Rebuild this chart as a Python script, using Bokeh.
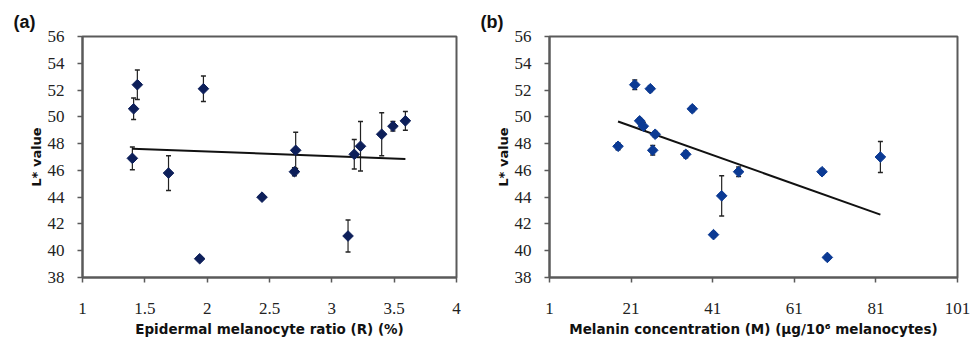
import numpy as np
from bokeh.plotting import figure
from bokeh.models import Range1d, FixedTicker, Whisker, TeeHead, ColumnDataSource, Title
from bokeh.layouts import row
from bokeh.embed import file_html
from bokeh.resources import INLINE

# ---- Panel (a) data ----
ratio_R = [1.41, 1.44, 1.40, 1.69, 1.97, 1.94, 2.44, 2.71, 2.70, 3.13, 3.18, 3.23, 3.40, 3.49, 3.59]
L_a = [50.6, 52.4, 46.9, 45.8, 52.1, 39.4, 44.0, 47.5, 45.9, 41.1, 47.2, 47.8, 48.7, 49.3, 49.7]
err_a = [0.8, 1.1, 0.85, 1.3, 0.95, 0.15, 0.15, 1.35, 0.3, 1.2, 1.1, 1.85, 1.6, 0.35, 0.7]
fit_a_x = [1.40, 3.59]
fit_a_y = [47.62, 46.85]
xticks_a = [1, 1.5, 2, 2.5, 3, 3.5, 4]
xlabels_a = ["1", "1.5", "2", "2.5", "3", "3.5", "4"]

# ---- Panel (b) data ----
conc_M = [21.9, 25.7, 36.0, 23.1, 24.0, 26.9, 17.8, 26.3, 34.4, 47.35, 43.2, 41.2, 67.8, 69.1, 82.1]
L_b = [52.4, 52.1, 50.6, 49.7, 49.3, 48.7, 47.8, 47.5, 47.2, 45.9, 44.1, 41.2, 45.9, 39.5, 47.0]
err_b = [0.35, 0.2, 0.2, 0.2, 0.3, 0.2, 0.25, 0.35, 0.25, 0.35, 1.5, 0.2, 0.2, 0.2, 1.15]
fit_b_x = [17.8, 82.1]
fit_b_y = [49.65, 42.7]
xticks_b = [1, 21, 41, 61, 81, 101]
xlabels_b = ["1", "21", "41", "61", "81", "101"]

yticks = [38, 40, 42, 44, 46, 48, 50, 52, 54, 56]
ylabels = [str(t) for t in yticks]

AXIS_COLOR = "#5a5a5a"
H = 343


def make_panel(x, y, err, fx, fy, xr, xticks, xlabels, xlabel, xlabel_size, tag, tag_offset,
               color, width, bl, br):
    p = figure(width=width, height=H, x_range=Range1d(*xr), y_range=Range1d(38, 56),
               output_backend="svg", toolbar_location=None,
               min_border_left=bl, min_border_right=br, min_border_top=36, min_border_bottom=66)
    p.grid.visible = False
    p.outline_line_color = AXIS_COLOR
    p.outline_line_width = 2
    p.background_fill_color = "white"
    p.border_fill_color = "white"

    for ax in (p.xaxis[0], p.yaxis[0]):
        ax.axis_line_color = AXIS_COLOR
        ax.axis_line_width = 2
        ax.major_tick_line_color = AXIS_COLOR
        ax.major_tick_line_width = 1.5
        ax.major_tick_in = 0
        ax.major_tick_out = 5
        ax.minor_tick_line_color = None
        ax.major_label_text_font = "Liberation Serif"
        ax.major_label_text_font_size = "17px"
        ax.major_label_text_color = "#222222"
        ax.axis_label_text_font = "DejaVu Sans"
        ax.axis_label_text_font_style = "bold"
        ax.axis_label_text_font_size = "13px"
        ax.axis_label_text_color = "#111111"
    p.xaxis.axis_label_text_font_size = xlabel_size

    p.xaxis.ticker = FixedTicker(ticks=xticks)
    p.xaxis.major_label_overrides = {float(t): l for t, l in zip(xticks, xlabels)}
    p.yaxis.ticker = FixedTicker(ticks=yticks)
    p.yaxis.major_label_overrides = {float(t): l for t, l in zip(yticks, ylabels)}
    p.xaxis.axis_label = xlabel
    p.yaxis.axis_label = "L* value"
    p.xaxis.major_label_standoff = 20
    p.xaxis.axis_label_standoff = 4
    p.yaxis.major_label_standoff = 13
    p.yaxis.axis_label_standoff = 1

    src = ColumnDataSource(dict(
        x=x, y=y,
        upper=[v + e for v, e in zip(y, err)],
        lower=[v - e for v, e in zip(y, err)],
    ))
    w = Whisker(source=src, base="x", upper="upper", lower="lower",
                line_color="#222222", line_width=1.2,
                upper_head=TeeHead(size=5, line_color="#222222", line_width=1.5),
                lower_head=TeeHead(size=5, line_color="#222222", line_width=1.5))
    p.add_layout(w)

    p.line(fx, fy, line_color="#111111", line_width=2)
    p.scatter("x", "y", source=src, marker="square", angle=np.pi / 4, size=7.5,
              fill_color=color, line_color=color, line_width=1)

    p.add_layout(Title(text=tag, align="left", offset=tag_offset, standoff=10,
                       text_font="Liberation Sans", text_font_style="bold",
                       text_font_size="18px", text_color="#111111"), "above")
    return p


pa = make_panel(ratio_R, L_a, err_a, fit_a_x, fit_a_y, (1, 4), xticks_a, xlabels_a,
                "Epidermal melanocyte ratio (R) (%)", "13.5px", "(a)", -69,
                "#0d1f5a", 480, 82, 24)
pb = make_panel(conc_M, L_b, err_b, fit_b_x, fit_b_y, (1, 101), xticks_b, xlabels_b,
                "Melanin concentration (M) (\u03bcg/10\u2076 melanocytes)", "13.5px", "(b)", -69,
                "#0b3a94", 497, 69, 20)

layout = row(pa, pb)
open("out.html", "w").write(file_html(layout, INLINE))
